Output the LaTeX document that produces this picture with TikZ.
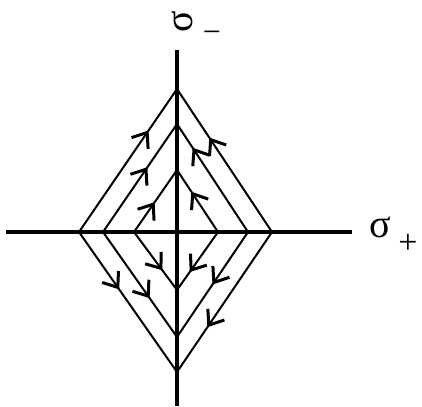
\documentclass[tikz,border=0pt]{standalone}
\usepackage{fontspec}
\setmainfont{Liberation Serif}
\usepackage{graphicx}
\usetikzlibrary{arrows.meta,decorations.markings}
\begin{document}
\begin{tikzpicture}[x=1pt,y=-1pt,
  axis/.style={line width=3.2pt},
  edge/.style={line width=2pt},
  arrat/.style={edge,postaction={decorate},decoration={markings,
      mark=at position #1 with {\arrow[line width=3pt]{Straight Barb[length=13pt,width=20pt]}}}},
  lab/.style={inner sep=0pt,font=\fontsize{40}{40}\selectfont}]
\useasboundingbox (0,0) rectangle (422,406);
% vertices
\coordinate (L1) at (79,232);  \coordinate (R1) at (272,232);
\coordinate (T1) at (177,89);  \coordinate (B1) at (177,372);
\coordinate (L2) at (103,232); \coordinate (R2) at (248,232);
\coordinate (T2) at (177,124); \coordinate (B2) at (177,337);
\coordinate (L3) at (134,232); \coordinate (R3) at (218,232);
\coordinate (T3) at (177,170); \coordinate (B3) at (177,290);
% axes
\coordinate (xl) at (6,232);  \coordinate (xr) at (352,232);
\coordinate (yt) at (177,50); \coordinate (yb) at (177,406);
\draw[axis] (xl) -- (xr);
\draw[axis] (yt) -- (yb);
% outer diamond
\draw[arrat=0.71] (L1) -- (T1);
\draw[arrat=0.66] (R1) -- (T1);
\draw[arrat=0.41] (L1) -- (B1);
\draw[arrat=0.68] (R1) -- (B1);
% middle diamond
\draw[arrat=0.60] (L2) -- (T2);
\draw[arrat=0.78] (R2) -- (T2);
\draw[arrat=0.63] (L2) -- (B2);
\draw[arrat=0.50] (R2) -- (B2);
% inner diamond
\draw[arrat=0.48] (L3) -- (T3);
\draw[arrat=0.65] (R3) -- (T3);
\draw[arrat=0.66] (L3) -- (B3);
\draw[arrat=0.69] (R3) -- (B3);
% labels
\node[lab] (sp) at (380,227) {σ};
\node[lab,font=\fontsize{34}{34}\selectfont] (spp) at (408,244) {+};
\node[lab] (sm) at (182,22) {\rotatebox{90}{σ}};
\node[lab,font=\fontsize{32}{32}\selectfont] (smm) at (212,37) {−};
\end{tikzpicture}
\end{document}
